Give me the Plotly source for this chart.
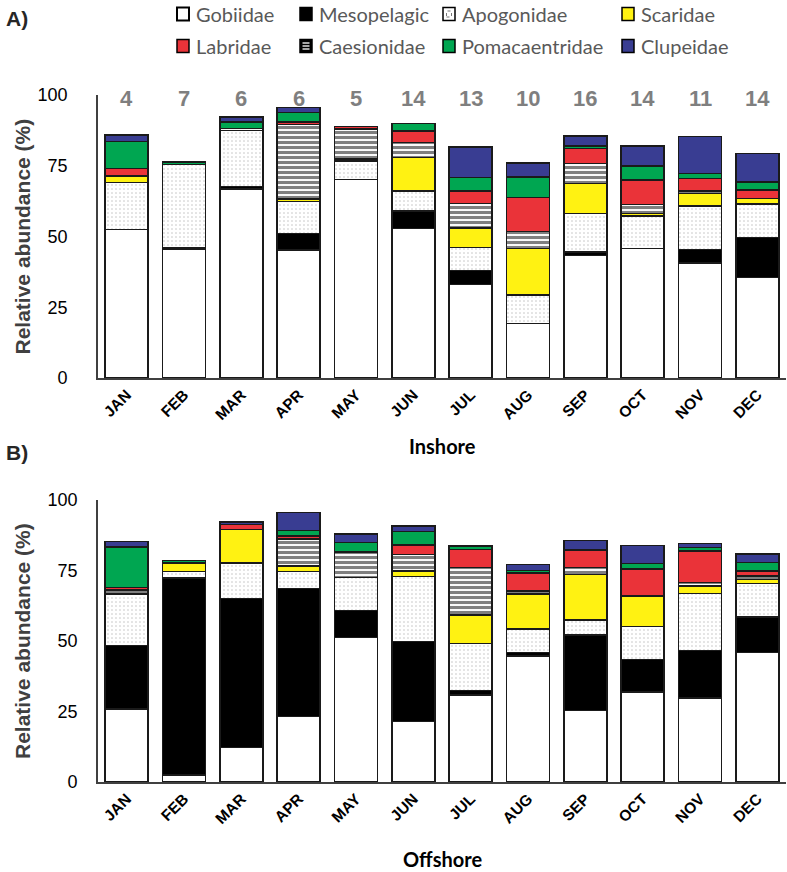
import plotly.graph_objects as go

W, H = 787, 872

months = ["JAN", "FEB", "MAR", "APR", "MAY", "JUN", "JUL", "AUG", "SEP", "OCT", "NOV", "DEC"]
families = ["Gobiidae", "Mesopelagic", "Apogonidae", "Scaridae", "Caesionidae", "Labridae", "Pomacaentridae", "Clupeidae"]

# Inshore (panel A) relative abundance (%) per family, by month
in_gobiidae    = [52.5, 45.5, 66.7, 45.2, 70.2, 52.9, 33.1, 19.3, 43.2, 45.8, 40.7, 35.6]
in_mesopelagic = [0.0, 0.7, 0.9, 5.9, 0.0, 6.1, 4.8, 0.0, 1.4, 0.0, 4.7, 14.1]
in_apogonidae  = [16.5, 29.3, 19.8, 11.2, 6.5, 7.1, 8.2, 10.0, 13.5, 11.5, 15.4, 11.8]
in_scaridae    = [2.4, 0.0, 0.0, 0.9, 0.6, 11.9, 6.9, 16.5, 10.6, 0.8, 4.4, 2.0]
in_caesionidae = [0.0, 0.0, 0.7, 26.4, 10.7, 5.2, 8.6, 5.9, 7.1, 3.2, 0.8, 0.0]
in_labridae    = [2.6, 0.0, 0.0, 0.9, 0.8, 4.1, 4.5, 12.1, 5.3, 8.6, 4.5, 2.9]
in_pomacentr   = [9.5, 0.8, 2.4, 3.3, 0.0, 2.7, 4.7, 7.3, 0.9, 5.1, 1.8, 2.9]
in_clupeidae   = [2.4, 0.0, 1.8, 1.7, 0.0, 0.0, 10.8, 4.9, 3.5, 6.9, 13.0, 10.0]
in_counts      = [4, 7, 6, 6, 5, 14, 13, 10, 16, 14, 11, 14]

# Offshore (panel B)
off_gobiidae    = [25.8, 2.5, 12.3, 23.2, 51.3, 21.5, 30.9, 44.7, 25.3, 32.0, 29.8, 46.0]
off_mesopelagic = [22.6, 69.8, 52.8, 45.5, 9.5, 28.4, 1.5, 1.3, 26.8, 11.5, 16.8, 12.6]
off_apogonidae  = [18.3, 2.4, 12.6, 5.9, 11.8, 23.0, 16.8, 8.3, 5.3, 11.6, 20.3, 11.8]
off_scaridae    = [0.0, 3.0, 11.8, 2.0, 0.0, 2.0, 10.0, 12.4, 16.2, 10.9, 2.6, 1.4]
off_caesionidae = [1.4, 0.0, 0.0, 9.5, 8.7, 5.7, 16.9, 1.1, 2.5, 0.0, 1.3, 1.2]
off_labridae    = [0.9, 0.0, 1.8, 1.2, 0.5, 3.5, 6.4, 6.3, 6.1, 9.5, 11.1, 1.8]
off_pomacentr   = [14.4, 0.8, 0.0, 1.9, 3.1, 4.8, 1.2, 0.9, 0.0, 1.9, 1.3, 3.0]
off_clupeidae   = [1.8, 0.0, 0.9, 6.4, 3.0, 1.9, 0.0, 2.2, 3.5, 6.4, 1.4, 3.1]
off_counts      = [10, 7, 5, 11, 7, 4, 8, 11, 10, 9, 10, 17]

inshore = [in_gobiidae, in_mesopelagic, in_apogonidae, in_scaridae,
           in_caesionidae, in_labridae, in_pomacentr, in_clupeidae]
offshore = [off_gobiidae, off_mesopelagic, off_apogonidae, off_scaridae,
            off_caesionidae, off_labridae, off_pomacentr, off_clupeidae]

YELLOW, RED, GREEN, BLUE = "#FFF212", "#EA3339", "#00A651", "#393D92"
LINE = "#1a1a1a"

def marker_for(fam):
    base = dict(line=dict(color=LINE, width=1.5))
    if fam == "Gobiidae":
        base["color"] = "white"
    elif fam == "Mesopelagic":
        base["color"] = "black"
    elif fam == "Apogonidae":
        base["color"] = "white"
        base["pattern"] = dict(shape=".", fgcolor="#808080", bgcolor="white", size=4, solidity=0.12)
    elif fam == "Scaridae":
        base["color"] = YELLOW
    elif fam == "Caesionidae":
        base["color"] = "white"
        base["pattern"] = dict(shape="-", fgcolor="black", bgcolor="white", size=5, solidity=0.62)
    elif fam == "Labridae":
        base["color"] = RED
    elif fam == "Pomacaentridae":
        base["color"] = GREEN
    elif fam == "Clupeidae":
        base["color"] = BLUE
    return base

fig = go.Figure()
for panel, (data, xa, ya) in enumerate([(inshore, "x", "y"), (offshore, "x2", "y2")]):
    for fam, vals in zip(families, data):
        fig.add_trace(go.Bar(
            x=months, y=[v if v > 0 else None for v in vals], name=fam,
            marker=marker_for(fam), xaxis=xa, yaxis=ya, showlegend=False,
            hoverinfo="skip",
        ))

def px_x(p):
    return p / W

def px_y(p):
    return 1 - p / H

AX_FONT = "Arial, Liberation Sans, sans-serif"
common_x = dict(
    domain=[px_x(98), px_x(786)], categoryorder="array", categoryarray=months,
    tickangle=-45, tickfont=dict(family=AX_FONT, size=15.5, color="black", weight="bold"),
    showline=True, linecolor="#404040", linewidth=1.6, ticks="",
    showgrid=False, zeroline=False,
)
common_y = dict(
    range=[0, 100], tickvals=[0, 25, 50, 75, 100],
    tickfont=dict(family=AX_FONT, size=18, color="black"),
    showline=True, linecolor="#404040", linewidth=1.6, ticks="outside",
    tickcolor="rgba(0,0,0,0)", showgrid=False, zeroline=False,
)

fig.update_layout(
    width=W, height=H, margin=dict(l=0, r=0, t=0, b=0, autoexpand=False),
    paper_bgcolor="white", plot_bgcolor="white",
    barmode="stack", bargap=0.25, showlegend=False,
    xaxis=dict(anchor="y", **common_x),
    yaxis=dict(anchor="x", domain=[px_y(378), px_y(95)], ticklen=25, **common_y),
    xaxis2=dict(anchor="y2", **common_x),
    yaxis2=dict(anchor="x2", domain=[px_y(782), px_y(500)], ticklen=15, **common_y),
)

ann = []
# counts above bars
for m, c in zip(months, in_counts):
    ann.append(dict(x=m, y=98.6, xref="x", yref="y", text=f"<b>{c}</b>", showarrow=False,
                    font=dict(family=AX_FONT, size=22, color="#7f7f7f"), yanchor="middle"))
for m, c in zip(months, off_counts):
    ann.append(dict(x=m, y=100.8, xref="x2", yref="y2", text=f"<b>{c}</b>", showarrow=False,
                    font=dict(family=AX_FONT, size=22, color="#7f7f7f"), yanchor="middle"))

# y-axis titles
for cy in [(95 + 378) / 2, (500 + 782) / 2]:
    ann.append(dict(x=px_x(22), y=px_y(cy), xref="paper", yref="paper",
                    text="<b>Relative abundance (%)</b>", textangle=-90, showarrow=False,
                    font=dict(family=AX_FONT, size=21, color="#404040"),
                    xanchor="center", yanchor="middle"))

# x-axis titles
ann.append(dict(x=px_x(442), y=px_y(446), xref="paper", yref="paper", text="<b>Inshore</b>",
                showarrow=False, font=dict(family="Lato, sans-serif", size=20, color="black"),
                xanchor="center", yanchor="middle"))
ann.append(dict(x=px_x(442), y=px_y(859), xref="paper", yref="paper", text="<b>Offshore</b>",
                showarrow=False, font=dict(family="Lato, sans-serif", size=20, color="black"),
                xanchor="center", yanchor="middle"))

# panel labels
ann.append(dict(x=px_x(4), y=px_y(18), xref="paper", yref="paper", text="<b>A)</b>",
                showarrow=False, font=dict(family=AX_FONT, size=21, color="#262626"),
                xanchor="left", yanchor="middle"))
ann.append(dict(x=px_x(4), y=px_y(453), xref="paper", yref="paper", text="<b>B)</b>",
                showarrow=False, font=dict(family=AX_FONT, size=21, color="#262626"),
                xanchor="left", yanchor="middle"))

# manual legend
legend_items = [
    ("Gobiidae", 177, 14), ("Mesopelagic", 300, 14), ("Apogonidae", 443, 14), ("Scaridae", 622, 14),
    ("Labridae", 177, 46), ("Caesionidae", 300, 46), ("Pomacaentridae", 443, 46), ("Clupeidae", 622, 46),
]
fill_map = {"Gobiidae": "white", "Mesopelagic": "black", "Apogonidae": "white", "Scaridae": YELLOW,
            "Labridae": RED, "Caesionidae": "black", "Pomacaentridae": GREEN, "Clupeidae": BLUE}
shapes = []
BW, BH = 12, 13
for name, bx, cy in legend_items:
    x0, x1 = bx, bx + BW
    y0, y1 = cy - BH / 2, cy + BH / 2
    shapes.append(dict(type="rect", xref="paper", yref="paper",
                       x0=px_x(x0), x1=px_x(x1), y0=px_y(y1), y1=px_y(y0),
                       fillcolor=fill_map[name], line=dict(color="black", width=2 if name == "Gobiidae" else 1.5)))
    if name == "Caesionidae":
        for k in range(3):
            yy = y0 + 3.5 + k * 3
            shapes.append(dict(type="line", xref="paper", yref="paper",
                               x0=px_x(x0 + 2.5), x1=px_x(x1 - 2.5), y0=px_y(yy), y1=px_y(yy),
                               line=dict(color="white", width=1.3)))
    if name == "Apogonidae":
        shapes.append(dict(type="rect", xref="paper", yref="paper",
                           x0=px_x(x0 + 3.5), x1=px_x(x1 - 3.5), y0=px_y(y1 - 3.5), y1=px_y(y0 + 3.5),
                           fillcolor="white", line=dict(color="#777777", width=1, dash="dot")))
    ann.append(dict(x=px_x(x1 + 5), y=px_y(cy), xref="paper", yref="paper", text=name,
                    showarrow=False, font=dict(family="Lato, sans-serif", size=20, color="#595959"),
                    xanchor="left", yanchor="middle"))

fig.update_layout(annotations=ann, shapes=shapes)
fig.write_html(
    "out.html",
    config={"displayModeBar": False},
    post_script="document.body.style.margin='0';document.body.style.padding='0';",
)
